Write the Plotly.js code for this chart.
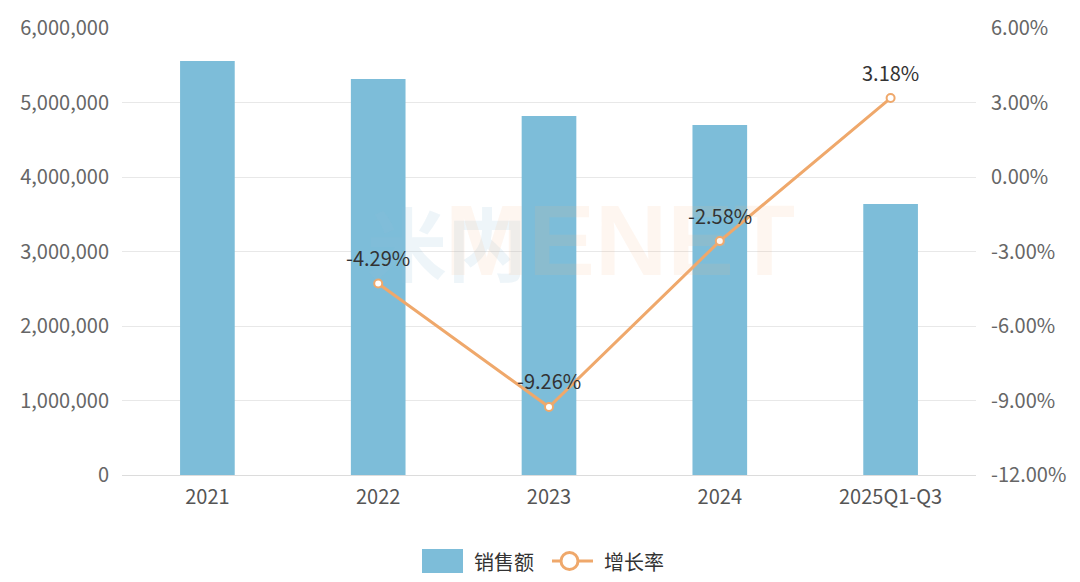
<!DOCTYPE html>
<html>
<head>
<meta charset="utf-8">
<script src="https://cdn.plot.ly/plotly-3.0.1.min.js"></script>
<style>html,body{margin:0;padding:0;background:#fff;}#chart{width:1080px;height:582px;}</style>
</head>
<body>
<div id="chart"></div>
<script>
const categories = ["2021", "2022", "2023", "2024", "2025Q1-Q3"];
const sales = [5557000, 5315000, 4819000, 4698000, 3638000];
const growthCats = ["2022", "2023", "2024", "2025Q1-Q3"];
const growth = [-4.29, -9.26, -2.58, 3.18];
const growthLabels = ["-4.29%", "-9.26%", "-2.58%", "3.18%"];
const leftTicks = [0, 1000000, 2000000, 3000000, 4000000, 5000000, 6000000];
const leftTickText = ["0", "1,000,000", "2,000,000", "3,000,000", "4,000,000", "5,000,000", "6,000,000"];
const rightTicks = [-12, -9, -6, -3, 0, 3, 6];
const rightTickText = ["-12.00%", "-9.00%", "-6.00%", "-3.00%", "0.00%", "3.00%", "6.00%"];
const legendNames = ["销售额", "增长率"];

const FONT = '"Noto Sans CJK SC", "Noto Sans", sans-serif';
const BAR = '#7dbdd9';
const LINE = '#efa86b';
const toPX = v => (v - 122) / 854;
const toPY = v => (475 - v) / 447;

const traces = [
  {
    type: 'bar', name: legendNames[0], x: categories, y: sales,
    marker: {color: BAR}, width: 0.32, yaxis: 'y', showlegend: false
  },
  {
    type: 'scatter', mode: 'lines+markers', name: legendNames[1],
    x: growthCats, y: growth, yaxis: 'y2', showlegend: false,
    line: {color: LINE, width: 3},
    marker: {size: 8, color: '#ffffff', line: {color: LINE, width: 2}},
    cliponaxis: false
  }
];

const labelAnnotations = growthCats.map((c, i) => ({
  text: growthLabels[i], x: categories.indexOf(c), y: growth[i], xref: 'x', yref: 'y2',
  showarrow: false, yshift: 26, font: {size: 20, color: '#333333', family: FONT}
}));

const layout = {
  width: 1080, height: 582,
  margin: {l: 122, r: 104, t: 28, b: 107, autoexpand: false},
  paper_bgcolor: '#ffffff', plot_bgcolor: '#ffffff',
  font: {family: FONT, size: 20, color: '#666666'},
  showlegend: false,
  xaxis: {
    type: 'category', categoryorder: 'array', categoryarray: categories,
    range: [-0.5, categories.length - 0.5],
    showgrid: false, zeroline: false, showline: false,
    ticks: '', ticklabelstandoff: 8, tickfont: {size: 20, color: '#555555'}
  },
  yaxis: {
    range: [0, 6000000], tickmode: 'array', tickvals: leftTicks, ticktext: leftTickText,
    showgrid: true, gridcolor: '#e8e8e8', gridwidth: 1,
    zeroline: true, zerolinecolor: '#dcdcdc', zerolinewidth: 1,
    showline: false, ticks: '', ticklabelstandoff: 12,
    tickfont: {size: 20, color: '#666666'}
  },
  yaxis2: {
    overlaying: 'y', side: 'right', range: [-12, 6],
    tickmode: 'array', tickvals: rightTicks, ticktext: rightTickText,
    showgrid: false, zeroline: false, showline: false, ticks: '',
    ticklabelstandoff: 14, tickfont: {size: 20, color: '#666666'}
  },
  shapes: [
    {type: 'rect', xref: 'paper', yref: 'paper', layer: 'above',
     x0: toPX(422), x1: toPX(463), y0: toPY(573), y1: toPY(549),
     fillcolor: BAR, line: {width: 0}},
    {type: 'line', xref: 'paper', yref: 'paper',
     x0: toPX(552), x1: toPX(593), y0: toPY(561), y1: toPY(561),
     line: {color: LINE, width: 3}},
    {type: 'circle', xref: 'paper', yref: 'paper',
     x0: toPX(561), x1: toPX(578), y0: toPY(569.5), y1: toPY(552.5),
     fillcolor: '#ffffff', line: {color: LINE, width: 3}}
  ],
  annotations: [
    {text: '<b>米内</b>', xref: 'paper', yref: 'paper', x: toPX(365), y: toPY(240),
     showarrow: false, font: {size: 80, color: 'rgba(150,195,220,0.16)', family: FONT}},
    {text: '<b>MENET</b>', xref: 'paper', yref: 'paper', x: toPX(620), y: toPY(240),
     showarrow: false, font: {size: 100, color: 'rgba(245,180,130,0.12)', family: '"Liberation Sans", sans-serif'}},
    {text: legendNames[0], xref: 'paper', yref: 'paper', x: toPX(472), xanchor: 'left',
     y: toPY(561), yanchor: 'middle', showarrow: false,
     font: {size: 20, color: '#333333', family: FONT}},
    {text: legendNames[1], xref: 'paper', yref: 'paper', x: toPX(602), xanchor: 'left',
     y: toPY(561), yanchor: 'middle', showarrow: false,
     font: {size: 20, color: '#333333', family: FONT}}
  ].concat(labelAnnotations)
};

Plotly.newPlot('chart', traces, layout, {displayModeBar: false, staticPlot: true});
</script>
</body>
</html>
